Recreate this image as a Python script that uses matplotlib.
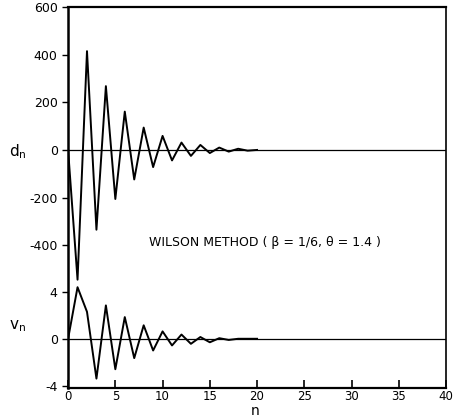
import matplotlib.pyplot as plt

plt.rcParams['font.family'] = 'DejaVu Sans'
plt.rcParams['axes.unicode_minus'] = False

# step index and the two damped responses
n = list(range(21))
d_n = [0, -545, 415, -335, 268, -206, 161, -124, 94, -72, 59,
       -44, 31, -25, 21, -13, 10, -7, 5, -3, 0]
v_n = [0, 4.4, 2.3, -3.4, 2.85, -2.6, 1.85, -1.65, 1.15, -1.0, 0.63,
       -0.57, 0.36, -0.43, 0.15, -0.3, 0.05, -0.1, 0.0, 0.0, 0.0]

d_ticks = [-400, -200, 0, 200, 400, 600]
v_ticks = [-4, 0, 4]
n_ticks = [0, 5, 10, 15, 20, 25, 30, 35, 40]

fig = plt.figure(figsize=(4.57, 4.19), dpi=100)
rect = [0.149, 0.074, 0.827, 0.909]

# displacement on the upper part of the frame
ax = fig.add_axes(rect)
ax.set_xlim(0, 40)
ax.set_ylim(-1000, 600)
ax.plot(n, d_n, color='black', lw=1.4)
ax.axhline(0, color='black', lw=0.9)
ax.set_yticks(d_ticks)
ax.set_xticks(n_ticks)
ax.tick_params(axis='x', direction='in', length=6, width=1.2, labelsize=8.5, pad=1.5)
ax.tick_params(axis='y', direction='out', length=4, width=1.0, labelsize=9)
for side, w in [('left', 1.8), ('top', 1.6), ('bottom', 1.6), ('right', 1.2)]:
    ax.spines[side].set_linewidth(w)

# velocity on the lower part, same frame
ax2 = fig.add_axes(rect, frameon=False, sharex=ax)
ax2.set_ylim(-4.2, 28.3)
ax2.plot(n, v_n, color='black', lw=1.4)
ax2.axhline(0, color='black', lw=0.9)
ax2.set_yticks(v_ticks)
ax2.tick_params(axis='y', direction='out', length=4, width=1.0, labelsize=9)
ax2.tick_params(axis='x', bottom=False, labelbottom=False)

fig.text(18 / 457, 1 - 152 / 419, r'$\mathregular{d_n}$', fontsize=11,
         ha='center', va='center')
fig.text(18 / 457, 1 - 326 / 419, r'$\mathregular{v_n}$', fontsize=11,
         ha='center', va='center')
fig.text(255 / 457, 1 / 419, 'n', fontsize=10, ha='center', va='bottom')

ax.text(0.52, 1 - 235 / 381, 'WILSON METHOD ( β = 1/6, θ = 1.4 )',
        transform=ax.transAxes, fontsize=9, ha='center', va='center')

fig.savefig('out.png', dpi=100)
